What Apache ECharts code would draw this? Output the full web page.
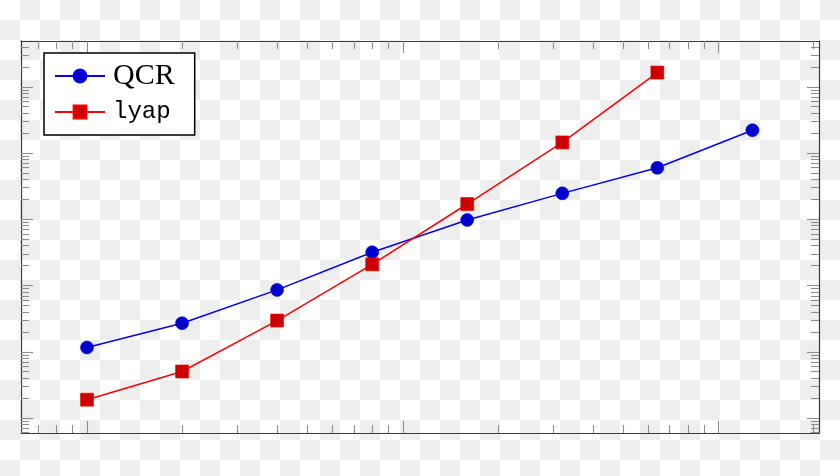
<!DOCTYPE html>
<html><head><meta charset="utf-8">
<script src="https://cdn.jsdelivr.net/npm/echarts@6/dist/echarts.min.js"></script>
<style>
html,body{margin:0;padding:0;}
body{background: repeating-conic-gradient(#eeeeee 0 25%, #ffffff 0 50%) 0 0 / 40px 40px;}
#chart{width:840px;height:476px;}
</style></head><body><div id="chart"></div>
<script>
// Data (x = problem size, y = time)
const sizes = [100, 200, 400, 800, 1600, 3200, 6400, 12800];
const qcrTimes = [0.116, 0.270, 0.859, 3.18, 9.75, 24.6, 59.8, 221];
const lyapTimes = [0.0189, 0.0504, 0.296, 2.09, 17.0, 144.5, 1640];
const seriesNames = ['QCR', 'lyap'];
const xMajorTicks = [100, 1000, 10000];
const yMajorTicks = [0.001, 0.01, 0.1, 1, 10, 100, 1000];

const xMin = 61.8, xMax = 20800;
const yMin = 0.00594, yMax = 4909;

function minorOf(majors) {
  const out = [];
  const decades = [majors[0] / 10].concat(majors);
  decades.forEach(d => { for (let k = 2; k <= 9; k++) out.push(+(k * d).toPrecision(6)); });
  return out;
}
const xMinorTicks = minorOf(xMajorTicks);
const yMinorTicks = minorOf(yMajorTicks);

const frameColor = '#3a3a3a';
const tickColor = '#8e8e8e';

function axisDef(kind, pos, ticks, len, showLine) {
  return {
    type: 'log', logBase: 10, position: pos,
    min: kind === 'x' ? xMin : yMin, max: kind === 'x' ? xMax : yMax,
    axisLine: { show: showLine, onZero: false, lineStyle: { color: frameColor, width: 1.2 } },
    axisTick: { show: true, inside: true, length: len, customValues: ticks, lineStyle: { color: tickColor, width: 1.1 } },
    axisLabel: { show: false },
    splitLine: { show: false },
    minorTick: { show: false },
    silent: true
  };
}

const chart = echarts.init(document.getElementById('chart'), null, { renderer: 'canvas' });
chart.setOption({
  animation: false,
  backgroundColor: 'transparent',
  grid: { left: 21, right: 21, top: 41, bottom: 43, containLabel: false },
  xAxis: [
    axisDef('x', 'bottom', xMajorTicks, 12, true),
    axisDef('x', 'top', xMajorTicks, 12, true),
    axisDef('x', 'bottom', xMinorTicks, 8, false),
    axisDef('x', 'top', xMinorTicks, 8, false)
  ],
  yAxis: [
    axisDef('y', 'left', yMajorTicks, 12, true),
    axisDef('y', 'right', yMajorTicks, 12, true),
    axisDef('y', 'left', yMinorTicks, 8, false),
    axisDef('y', 'right', yMinorTicks, 8, false)
  ],
  legend: {
    orient: 'vertical', left: 44, top: 53,
    padding: [8, 20, 8, 10],
    itemWidth: 50, itemHeight: 16, itemGap: 6,
    backgroundColor: '#ffffff', borderColor: '#000000', borderWidth: 1.5, borderRadius: 0,
    selectedMode: false,
    textStyle: { color: '#000000' },
    data: [
      { name: seriesNames[0], textStyle: { fontFamily: 'Liberation Serif', fontSize: 30, lineHeight: 30, color: '#000', padding: [0, 0, 0, 3] } },
      { name: seriesNames[1], textStyle: { fontFamily: 'Liberation Mono', fontSize: 24, lineHeight: 30, color: '#000', padding: [0, 0, 0, 3] } }
    ]
  },
  series: [
    {
      name: seriesNames[0], type: 'line', xAxisIndex: 0, yAxisIndex: 0,
      data: sizes.map((s, i) => [s, qcrTimes[i]]),
      symbol: 'circle', symbolSize: 13,
      lineStyle: { color: '#0000ff', width: 1.5 },
      itemStyle: { color: '#0000cc', borderColor: '#0000ff', borderWidth: 0.6 },
      emphasis: { disabled: true }
    },
    {
      name: seriesNames[1], type: 'line', xAxisIndex: 0, yAxisIndex: 0,
      data: lyapTimes.map((t, i) => [sizes[i], t]),
      symbol: 'rect', symbolSize: 13,
      lineStyle: { color: '#ff0000', width: 1.5 },
      itemStyle: { color: '#cc0000', borderColor: '#ff0000', borderWidth: 0.6 },
      emphasis: { disabled: true }
    }
  ]
});
</script></body></html>
